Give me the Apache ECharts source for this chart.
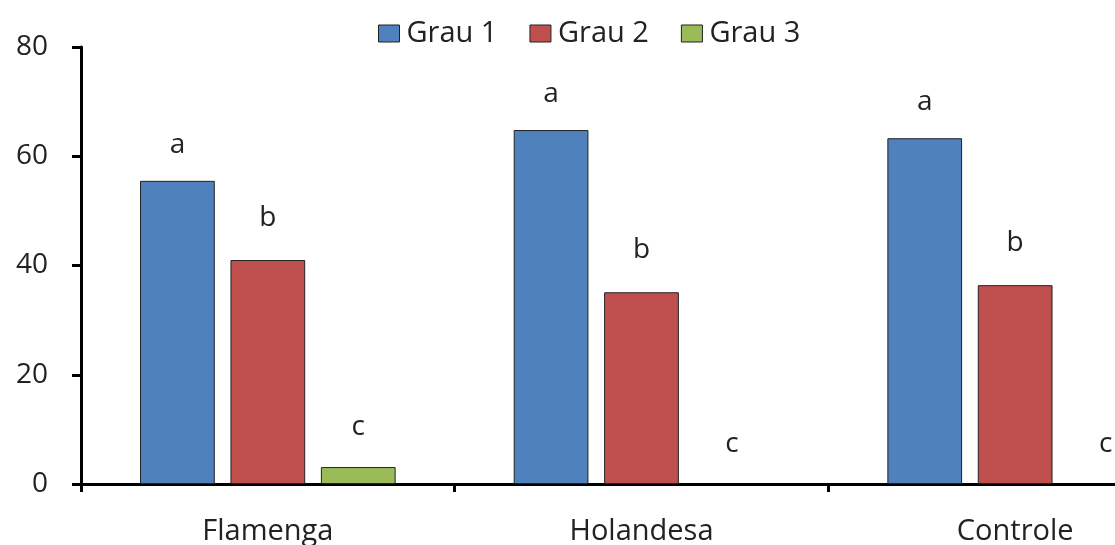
<!DOCTYPE html>
<html>
<head>
<meta charset="utf-8">
<script src="https://cdn.jsdelivr.net/npm/echarts@6/dist/echarts.min.js"></script>
<style>html,body{margin:0;padding:0;background:#fff}#c{width:1115px;height:545px}</style>
</head>
<body>
<div id="c"></div>
<script>
const categories = ['Flamenga', 'Holandesa', 'Controle'];
const seriesNames = ['Grau 1', 'Grau 2', 'Grau 3'];
const grau1 = [55.5, 64.8, 63.3];
const grau2 = [41.0, 35.1, 36.4];
const grau3 = [3.1, 0, 0];
const letters1 = ['a', 'a', 'a'];
const letters2 = ['b', 'b', 'b'];
const letters3 = ['c', 'c', 'c'];
const yTicks = [0, 20, 40, 60, 80];

const colors = ['#4F81BD', '#C0504D', '#9BBB59'];
const FONT = '"Open Sans", sans-serif';
const dataSets = [grau1, grau2, grau3];
const letterSets = [letters1, letters2, letters3];
const dists = [22, 28, 26];

const chart = echarts.init(document.getElementById('c'), null, {renderer: 'canvas'});
chart.setOption({
  animation: false,
  backgroundColor: '#fff',
  textStyle: {fontFamily: FONT},
  legend: {
    data: seriesNames,
    left: 378, top: 19, padding: 0,
    itemWidth: 21, itemHeight: 17, itemGap: 32,
    icon: 'rect',
    itemStyle: {borderColor: '#222', borderWidth: 1},
    textStyle: {fontFamily: FONT, fontSize: 29, color: '#222', padding: [0, 0, 0, 2]}
  },
  grid: {left: 81, top: 47, width: 1121, height: 437, containLabel: false, outerBoundsMode: 'none'},
  xAxis: {
    type: 'category',
    data: categories,
    axisLine: {lineStyle: {color: '#000', width: 3}},
    axisTick: {show: true, length: 8, lineStyle: {color: '#000', width: 3}},
    axisLabel: {fontFamily: FONT, fontSize: 29, color: '#222', margin: 33}
  },
  yAxis: {
    type: 'value',
    min: yTicks[0], max: yTicks[yTicks.length - 1], interval: 20,
    splitLine: {show: false},
    axisLine: {show: true, lineStyle: {color: '#000', width: 3}},
    axisTick: {show: true, length: 9, lineStyle: {color: '#000', width: 3}},
    axisLabel: {fontFamily: FONT, fontSize: 28, color: '#222', margin: 33}
  },
  series: seriesNames.map((name, i) => ({
    name: name,
    type: 'bar',
    data: dataSets[i].map(v => v === 0 ? {value: v, itemStyle: {borderWidth: 0}} : v),
    barWidth: '20%',
    barGap: '21%',
    itemStyle: {color: colors[i], borderColor: '#222', borderWidth: 1},
    label: {
      show: true, position: 'top', distance: dists[i],
      fontFamily: FONT, fontSize: 28, color: '#222',
      formatter: p => letterSets[i][p.dataIndex]
    }
  }))
});
</script>
</body>
</html>
